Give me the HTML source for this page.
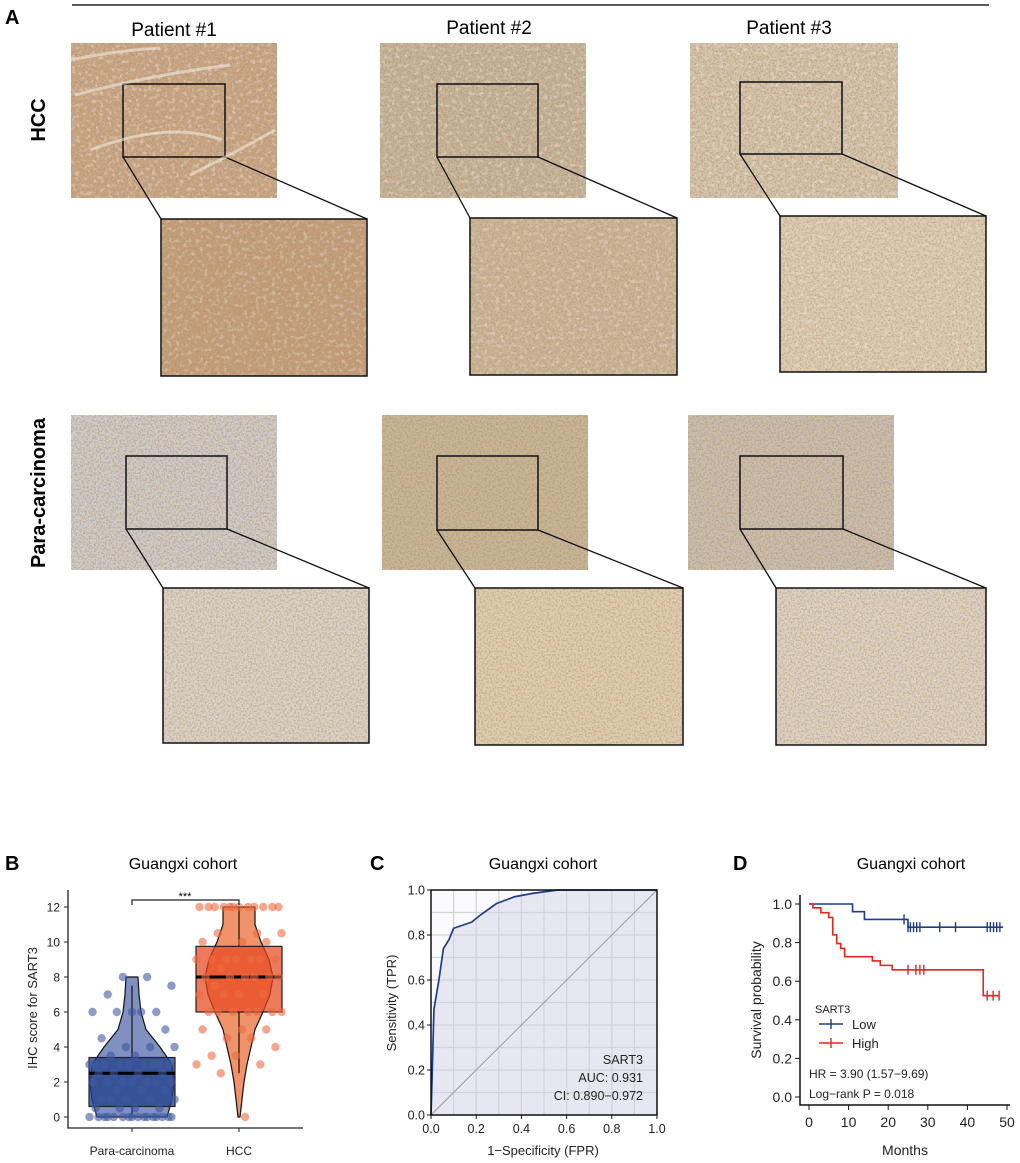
<!DOCTYPE html>
<html><head><meta charset="utf-8">
<style>
html,body{margin:0;padding:0;background:#fff;}
svg{display:block;font-family:"Liberation Sans",Arial,sans-serif;}
</style></head>
<body>
<svg id="fig" width="1020" height="1163" viewBox="0 0 1020 1163" xmlns="http://www.w3.org/2000/svg">
<defs>
<filter id="noise" x="0" y="0" width="100%" height="100%">
<feTurbulence type="fractalNoise" baseFrequency="0.55" numOctaves="2" seed="3"/>
<feColorMatrix type="matrix" values="0 0 0 0 0.4  0 0 0 0 0.25  0 0 0 0 0.15  0 0 0 -4.5 2.5"/>
</filter>
<filter id="light" x="0" y="0" width="100%" height="100%">
<feTurbulence type="fractalNoise" baseFrequency="0.25" numOctaves="3" seed="7"/>
<feColorMatrix type="matrix" values="0 0 0 0 0.97  0 0 0 0 0.95  0 0 0 0 0.9  0 0 0 4 -2.1"/>
</filter>
<filter id="noise2" x="0" y="0" width="100%" height="100%">
<feTurbulence type="fractalNoise" baseFrequency="0.6" numOctaves="1" seed="9"/>
<feColorMatrix type="matrix" values="0 0 0 0 0.35  0 0 0 0 0.4  0 0 0 0 0.7  0 0 0 -4 2"/>
</filter>
</defs>
<line x1="72" y1="5" x2="989" y2="5" stroke="#222" stroke-width="1.5"/>
<text x="5" y="24" font-size="20" font-weight="bold">A</text>
<text x="174" y="36" font-size="19" text-anchor="middle">Patient #1</text>
<text x="489" y="34" font-size="19" text-anchor="middle">Patient #2</text>
<text x="789" y="34" font-size="19" text-anchor="middle">Patient #3</text>
<text transform="translate(45,120) rotate(-90)" font-size="20" font-weight="bold" text-anchor="middle">HCC</text>
<text transform="translate(45,493) rotate(-90)" font-size="20" font-weight="bold" text-anchor="middle">Para-carcinoma</text>
<g id="micro"></g>
<g id="panelB"></g>
<g id="panelC"></g>
<g id="panelD"></g>
</svg>
<script>
const NS="http://www.w3.org/2000/svg";
function mk(parent,tag,attrs,txt){const e=document.createElementNS(NS,tag);for(const k in attrs)e.setAttribute(k,attrs[k]);if(txt!==undefined)e.textContent=txt;parent.appendChild(e);return e;}

// ---------- Panel A micrographs ----------
const micro=document.getElementById('micro');
const imgs=[
 ['hcc-p1',71,43,206,155,'#c9a684',[123,84,102,73],[161,219,206,157],'#c49e7a',0,1],
 ['hcc-p2',380,43,206,155,'#c6b398',[437,84,101,73],[470,218,207,157],'#cbb597',0,1],
 ['hcc-p3',690,43,208,155,'#d3c3aa',[740,82,102,72],[780,216,206,156],'#dccbb1',0,1],
 ['para-p1',71,415,206,155,'#d2cdc5',[126,456,101,73],[163,588,206,155],'#ddd4c2',1,0],
 ['para-p2',382,415,206,155,'#c8b697',[437,456,101,74],[475,588,208,157],'#dfcdad',0,0],
 ['para-p3',688,415,206,155,'#cdc0aa',[740,456,103,73],[776,588,210,157],'#e0d4bf',1,0]
];
imgs.forEach(d=>{
 const [nm,x,y,w,h,col,ins,zm,zcol,blue,str]=d;
 const g=mk(micro,'g',{});
 
 
 mk(g,'rect',{x:x,y:y,width:w,height:h,fill:col});
 mk(g,'rect',{x:x,y:y,width:w,height:h,fill:'#000',filter:'url(#noise)',opacity:0.45});
 if(str) mk(g,'rect',{x:x,y:y,width:w,height:h,fill:'#000',filter:'url(#light)',opacity:0.35});
 if(blue) mk(g,'rect',{x:x,y:y,width:w,height:h,fill:'#000',filter:'url(#noise2)',opacity:0.35});
 const l1=mk(micro,'line',{x1:ins[0],y1:ins[1]+ins[3],x2:zm[0],y2:zm[1],stroke:'#111','stroke-width':1.3});
 
 
 const l2=mk(micro,'line',{x1:ins[0]+ins[2],y1:ins[1]+ins[3],x2:zm[0]+zm[2],y2:zm[1],stroke:'#111','stroke-width':1.3});
 
 
 const r=mk(micro,'rect',{x:ins[0],y:ins[1],width:ins[2],height:ins[3],fill:'none',stroke:'#111','stroke-width':1.5});
 
 
 const zg=mk(micro,'g',{});
 
 
 mk(zg,'rect',{x:zm[0],y:zm[1],width:zm[2],height:zm[3],fill:zcol});
 mk(zg,'rect',{x:zm[0],y:zm[1],width:zm[2],height:zm[3],fill:'#000',filter:'url(#noise)',opacity:0.4});
 if(str) mk(zg,'rect',{x:zm[0],y:zm[1],width:zm[2],height:zm[3],fill:'#000',filter:'url(#light)',opacity:0.3});
 if(blue) mk(zg,'rect',{x:zm[0],y:zm[1],width:zm[2],height:zm[3],fill:'#000',filter:'url(#noise2)',opacity:0.3});
 mk(zg,'rect',{x:zm[0],y:zm[1],width:zm[2],height:zm[3],fill:'none',stroke:'#111','stroke-width':1.5});
});
[[75,95,150,75,230,65],[90,150,170,120,222,140],[190,175,240,150,275,130],[70,60,120,50,160,48]].forEach(p=>{
 const s=mk(micro,'path',{d:`M${p[0]},${p[1]} Q${p[2]},${p[3]} ${p[4]},${p[5]}`,stroke:'#f4efe6','stroke-width':3,fill:'none',opacity:0.55});
 
 
});

// ---------- Panel B data ----------
const bGroups=['Para-carcinoma','HCC'];
const bYTicks=[0,2,4,6,8,10,12];
const paraScores=[8,8,7.5,7,6,6,6,6,6,5,4.5,4,4,4,3.5,3.5,3,3,3,3,3,3,3,3,3,2.5,2.5,2.5,2.5,2,2,2,2,2,2,2,1.5,1.5,1.5,1,1,1,1,1,0.5,0.5,0.5,0.5,0,0,0,0,0,0,0,0,0,0,0,0,0,0,0,0];
const hccScores=[12,12,12,12,12,12,12,12,12,12,12,12,10.5,10.5,10.5,10,10,10,9,9,9,9,9,9,9,8.5,8,8,8,8,8,8,7.5,7,7,7,7,6,6,6,6,6,6,6,5,5,5,4.5,4.5,4,3.5,3.5,3,3,2.5,0];
const paraBox=[0.6,2.5,3.4];
const hccBox=[6,8,9.75];
const paraWhisker=[0,7.5];
const hccWhisker=[2.5,12];
const paraDensity=[35,40,42,40,28,14,9,7,6];
const hccDensity=[1,3,5,8,12,16,24,31,34,30,22,16,16];

(function(){
 const g=document.getElementById('panelB');
 const yB=v=>1117-17.5*v;
 const xB=i=>[132,239][i];
 mk(g,'text',{x:5,y:870,'font-size':20,'font-weight':'bold'},'B');
 const t=mk(g,'text',{x:183,y:869,'font-size':16,'text-anchor':'middle'},'Guangxi cohort');
 
 
 const ax=mk(g,'path',{d:'M68,890 V1128 H303',stroke:'#222','stroke-width':1.3,fill:'none'});
 
 
 bYTicks.forEach(v=>{
  mk(g,'line',{x1:64,x2:68,y1:yB(v),y2:yB(v),stroke:'#222'});
  const tl=mk(g,'text',{x:60,y:yB(v)+4.5,'font-size':12,'text-anchor':'end',fill:'#222'},v);
  
  
 });
 bGroups.forEach((n,i)=>{
  mk(g,'line',{x1:xB(i),x2:xB(i),y1:1128,y2:1132,stroke:'#222'});
  const tl=mk(g,'text',{x:xB(i),y:1155,'font-size':12,'text-anchor':'middle',fill:'#222'},n);
  
  
 });
 const yt=mk(g,'text',{transform:'translate(37,1008) rotate(-90)','font-size':13,'text-anchor':'middle',fill:'#222'},'IHC score for SART3');
 
 
 function violin(i,dens,fill){
  let L=[],R=[];
  dens.forEach((w,k)=>{R.push(`${xB(i)+w},${yB(k)}`);L.unshift(`${xB(i)-w},${yB(k)}`);});
  const p=mk(g,'path',{d:`M${xB(i)},${yB(0)} L${R.join(' L')} L${L.join(' L')} Z`,fill:fill,stroke:'#111','stroke-width':1.2,'stroke-linejoin':'round'});
  
  
 }
 function box(i,b,wh,fill){
  const w=43;
  const r=mk(g,'rect',{x:xB(i)-w,y:yB(b[2]),width:2*w,height:yB(b[0])-yB(b[2]),fill:fill,stroke:'#222','stroke-width':1.2});
  
  
  mk(g,'line',{x1:xB(i),x2:xB(i),y1:yB(wh[1]),y2:yB(b[2]),stroke:'#111','stroke-width':1.2});
  mk(g,'line',{x1:xB(i),x2:xB(i),y1:yB(b[0]),y2:yB(wh[0]),stroke:'#111','stroke-width':1.2});
  const m=mk(g,'line',{x1:xB(i)-w,x2:xB(i)+w,y1:yB(b[1]),y2:yB(b[1]),stroke:'#000','stroke-width':3});
  
  
 }
 violin(0,paraDensity,'#8090c0');
 violin(1,hccDensity,'#f0926a');
 function pts(i,arr,col){
  arr.forEach((v,k)=>{
   const j=(((k*37+11)%29)/28-0.5)*85;
   const c=mk(g,'circle',{cx:xB(i)+j,cy:yB(v),r:4.2,fill:col,opacity:0.6});
   
   
  });
 }
 box(0,paraBox,paraWhisker,'rgba(35,65,140,0.78)');
 box(1,hccBox,hccWhisker,'rgba(232,70,30,0.72)');
 pts(0,paraScores,'#3f5aa0');
 pts(1,hccScores,'#ee6a40');
 const br=mk(g,'path',{d:`M${xB(0)},905 V900 H${xB(1)} V905`,stroke:'#222','stroke-width':1.2,fill:'none'});
 
 
 const st=mk(g,'text',{x:185,y:900,'font-size':11,'text-anchor':'middle'},'***');
 
 
})();

// ---------- Panel C data ----------
const rocFPR=[0,0.005,0.013,0.035,0.055,0.08,0.1,0.18,0.22,0.29,0.37,0.45,0.56,1];
const rocTPR=[0,0.17,0.47,0.6,0.74,0.78,0.83,0.857,0.89,0.94,0.97,0.985,1,1];
const cTicks=[0,0.2,0.4,0.6,0.8,1.0];
const cGrid=[0.1,0.2,0.3,0.4,0.5,0.6,0.7,0.8,0.9];
(function(){
 const g=document.getElementById('panelC');
 const xC=v=>431+226*v, yC=v=>1115-225*v;
 mk(g,'text',{x:370,y:870,'font-size':20,'font-weight':'bold'},'C');
 const t=mk(g,'text',{x:543,y:869,'font-size':16,'text-anchor':'middle'},'Guangxi cohort');
 
 
 mk(g,'rect',{x:xC(0),y:yC(1),width:226,height:225,fill:'#fbfbfd'});
 let poly=rocFPR.map((f,i)=>`${xC(f)},${yC(rocTPR[i])}`).join(' L');
 const area=mk(g,'path',{d:`M${xC(0)},${yC(0)} L${poly} L${xC(1)},${yC(0)} Z`,fill:'#e6e7f1'});
 
 
 cGrid.forEach(v=>{
  mk(g,'line',{x1:xC(v),x2:xC(v),y1:yC(0),y2:yC(1),stroke:'#d2d2da','stroke-width':1.2});
  mk(g,'line',{x1:xC(0),x2:xC(1),y1:yC(v),y2:yC(v),stroke:'#d2d2da','stroke-width':1.2});
 });
 const dg=mk(g,'line',{x1:xC(0),y1:yC(0),x2:xC(1),y2:yC(1),stroke:'#9a9a9a','stroke-width':1});
 
 
 const cv=mk(g,'path',{d:'M'+poly,fill:'none',stroke:'#1f3c88','stroke-width':1.7});
 
 
 const fr=mk(g,'rect',{x:xC(0),y:yC(1),width:226,height:225,fill:'none',stroke:'#111','stroke-width':1.5});
 
 
 cTicks.forEach(v=>{
  mk(g,'line',{x1:xC(0)-4,x2:xC(0),y1:yC(v),y2:yC(v),stroke:'#111'});
  mk(g,'line',{x1:xC(v),x2:xC(v),y1:yC(0),y2:yC(0)+4,stroke:'#111'});
  const a=mk(g,'text',{x:xC(0)-6,y:yC(v)+4.5,'font-size':12.5,'text-anchor':'end',fill:'#222'},v.toFixed(1));
  
  
  const b=mk(g,'text',{x:xC(v),y:1133,'font-size':12.5,'text-anchor':'middle',fill:'#222'},v.toFixed(1));
  
  
 });
 const xt=mk(g,'text',{x:543,y:1155,'font-size':13,'text-anchor':'middle',fill:'#222'},'1\u2212Specificity (FPR)');
 
 
 const yt=mk(g,'text',{transform:'translate(396,1003) rotate(-90)','font-size':13,'text-anchor':'middle',fill:'#222'},'Sensitivity (TPR)');
 
 
 [['SART3',1064],['AUC: 0.931',1082],['CI: 0.890\u22120.972',1100]].forEach(r=>{
  const a=mk(g,'text',{x:643,y:r[1],'font-size':12.5,'text-anchor':'end',fill:'#222'},r[0]);
  
  
 });
})();

// ---------- Panel D data ----------
const lowTimes=[0,11,14,25,49];
const lowSurv=[1.0,0.96,0.92,0.88,0.88];
const lowCensor=[24,25,25.6,26.4,27.2,28,33,37,45,45.8,46.6,47.4,48.2];
const highTimes=[0,1,3,5,6,7,8,9,16,18,21,44,48];
const highSurv=[1.0,0.98,0.955,0.93,0.84,0.795,0.77,0.727,0.705,0.682,0.659,0.525,0.525];
const highCensor=[25,27,28,29,45,46.5,48];
const dXTicks=[0,10,20,30,40,50];
const dYTicks=[0,0.2,0.4,0.6,0.8,1.0];
(function(){
 const g=document.getElementById('panelD');
 const xD=v=>809+3.96*v, yD=v=>1097-193*v;
 mk(g,'text',{x:733,y:870,'font-size':20,'font-weight':'bold'},'D');
 const t=mk(g,'text',{x:911,y:869,'font-size':16,'text-anchor':'middle'},'Guangxi cohort');
 
 
 const ax=mk(g,'path',{d:'M800,895 V1105 H1010',stroke:'#111','stroke-width':1.5,fill:'none'});
 
 
 dYTicks.forEach(v=>{
  mk(g,'line',{x1:795,x2:800,y1:yD(v),y2:yD(v),stroke:'#111'});
  const a=mk(g,'text',{x:792,y:yD(v)+5,'font-size':14,'text-anchor':'end',fill:'#222'},v.toFixed(1));
  
  
 });
 dXTicks.forEach(v=>{
  mk(g,'line',{x1:xD(v),x2:xD(v),y1:1105,y2:1110,stroke:'#111'});
  const a=mk(g,'text',{x:xD(v),y:1127,'font-size':14,'text-anchor':'middle',fill:'#222'},v);
  
  
 });
 const xt=mk(g,'text',{x:905,y:1155,'font-size':14,'text-anchor':'middle',fill:'#222'},'Months');
 
 
 const yt=mk(g,'text',{transform:'translate(761,1000) rotate(-90)','font-size':14,'text-anchor':'middle',fill:'#222'},'Survival probability');
 
 
 function km(times,surv,cens,col,nm){
  let d=`M${xD(times[0])},${yD(surv[0])}`;
  for(let i=1;i<times.length;i++){d+=` H${xD(times[i])} V${yD(surv[i])}`;}
  const p=mk(g,'path',{d:d,fill:'none',stroke:col,'stroke-width':1.6});
  
  
  cens.forEach(c=>{
   let s=surv[0];
   for(let i=0;i<times.length;i++){if(times[i]<=c)s=surv[i];}
   const m=mk(g,'line',{x1:xD(c),x2:xD(c),y1:yD(s)-5,y2:yD(s)+5,stroke:col,'stroke-width':1.4});
   
   
  });
 }
 km(lowTimes,lowSurv,lowCensor,'#1f3c88','low');
 km(highTimes,highSurv,highCensor,'#e8231c','high');
 mk(g,'text',{x:815,y:1013,'font-size':11,fill:'#222'},'SART3');
 [['Low','#1f3c88',1024],['High','#e8231c',1043]].forEach(r=>{
  const lg=mk(g,'g',{});
  
  
  mk(lg,'line',{x1:819,x2:843,y1:r[2],y2:r[2],stroke:r[1],'stroke-width':1.6});
  mk(lg,'line',{x1:831,x2:831,y1:r[2]-5,y2:r[2]+5,stroke:r[1],'stroke-width':1.4});
  mk(lg,'text',{x:852,y:r[2]+5,'font-size':13,fill:'#222'},r[0]);
 });
 mk(g,'text',{x:809,y:1078,'font-size':12,fill:'#222'},'HR = 3.90 (1.57\u22129.69)');
 mk(g,'text',{x:809,y:1098,'font-size':12,fill:'#222'},'Log\u2212rank P = 0.018');
})();
</script>
</body></html>
